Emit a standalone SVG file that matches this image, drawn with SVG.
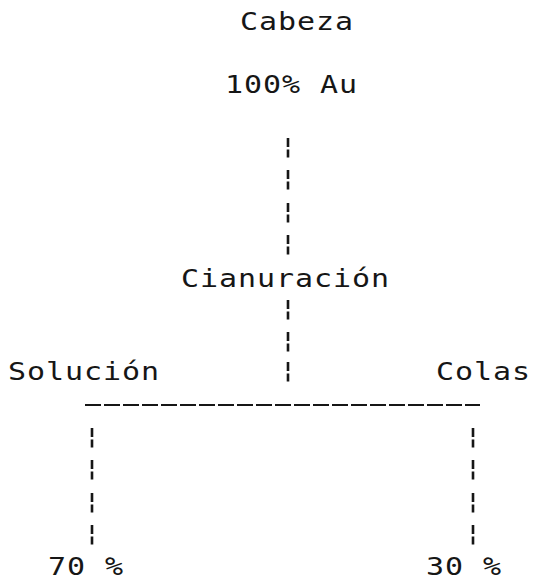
<svg xmlns="http://www.w3.org/2000/svg" width="534" height="580" viewBox="0 0 534 580">
  <style>
    /* wide monospace lettering, stretched sideways like a dot-matrix face */
    .lbl { font-family: "DejaVu Sans Mono", "Liberation Mono", monospace; font-size: 24px; letter-spacing: 0.75px; fill: #161616; }
    .bar { fill: #161616; }
    .rule { stroke: #161616; stroke-width: 1.8; stroke-dasharray: 16 3; fill: none; }
  </style>
  <defs>
    <!-- broken vertical bar, as printed by a dot-matrix head -->
    <g id="bb">
      <rect class="bar" x="-1.3" y="0" width="2.6" height="9"/>
      <rect class="bar" x="-1.3" y="11.5" width="2.6" height="8"/>
    </g>
  </defs>
  <rect width="534" height="580" fill="#ffffff"/>

  <g id="connectors">
    <!-- feed down to the leach -->
    <use href="#bb" x="288" y="138"/>
    <use href="#bb" x="288" y="170"/>
    <use href="#bb" x="288" y="203"/>
    <use href="#bb" x="288" y="235"/>
    <!-- leach down to the split -->
    <use href="#bb" x="288" y="300"/>
    <use href="#bb" x="288" y="332"/>
    <use href="#bb" x="288" y="362"/>
    <!-- split rule -->
    <line class="rule" x1="85" y1="405" x2="480" y2="405"/>
    <!-- left branch -->
    <use href="#bb" x="92" y="428"/>
    <use href="#bb" x="92" y="460"/>
    <use href="#bb" x="92" y="493"/>
    <use href="#bb" x="92" y="525"/>
    <!-- right branch -->
    <use href="#bb" x="473" y="428"/>
    <use href="#bb" x="473" y="460"/>
    <use href="#bb" x="473" y="493"/>
    <use href="#bb" x="473" y="525"/>
  </g>

  <g id="cabeza">
    <text class="lbl" transform="translate(240 30) scale(1.25 1)">Cabeza</text>
    <text class="lbl" transform="translate(225 93) scale(1.25 1)">100% Au</text>
  </g>
  <g id="cianuracion">
    <text class="lbl" transform="translate(181 287) scale(1.25 1)">Cianuración</text>
  </g>
  <g id="solucion">
    <text class="lbl" transform="translate(8 380) scale(1.25 1)">Solución</text>
  </g>
  <g id="colas">
    <text class="lbl" transform="translate(436 380) scale(1.25 1)">Colas</text>
  </g>
  <g id="pct-solucion">
    <text class="lbl" transform="translate(48 575) scale(1.25 1)">70 %</text>
  </g>
  <g id="pct-colas">
    <text class="lbl" transform="translate(426 575) scale(1.25 1)">30 %</text>
  </g>
</svg>
